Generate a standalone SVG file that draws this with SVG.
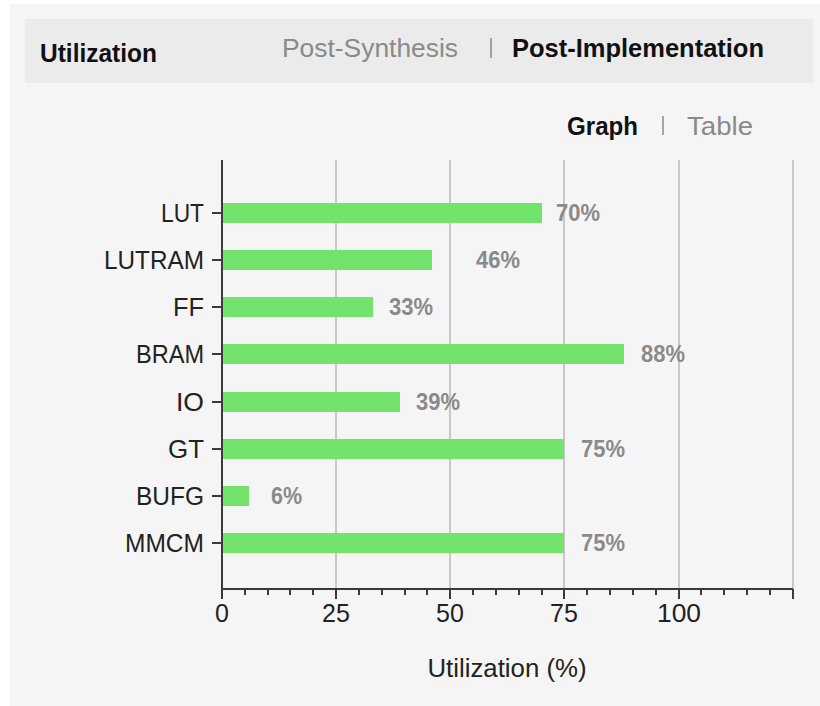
<svg xmlns="http://www.w3.org/2000/svg" width="820" height="706" viewBox="0 0 820 706">
  <defs>
    <style>
      text { font-family: "Liberation Sans", Arial, sans-serif; }
      .hdr-b { font-size: 25px; font-weight: bold; fill: #111; }
      .hdr-g { font-size: 25px; fill: #8a8a8a; }
      .cat { font-size: 26px; fill: #222; text-anchor: end; }
      .val { font-size: 23px; font-weight: bold; fill: #8a8a8a; }
      .tickl { font-size: 25px; fill: #222; text-anchor: middle; }
      .grid { stroke: #b8b8b8; stroke-width: 1.5; }
      .axis { stroke: #3a3a3a; stroke-width: 2; fill: none; }
      .bar { fill: #72e46c; }
      .sep { stroke: #8a8a8a; stroke-width: 1.5; }
    </style>
  </defs>

  <!-- background panel -->
  <rect x="0" y="0" width="820" height="706" fill="#ffffff"/>
  <rect x="10" y="4" width="810" height="702" fill="#f5f5f5"/>

  <!-- header bar -->
  <g id="header">
    <rect x="25" y="19" width="788" height="64" fill="#ebebeb"/>
    <text class="hdr-b" x="40" y="62" textLength="117" lengthAdjust="spacingAndGlyphs">Utilization</text>
    <text class="hdr-g" x="282" y="57" textLength="176" lengthAdjust="spacingAndGlyphs">Post-Synthesis</text>
    <line class="sep" x1="491" y1="38" x2="491" y2="58"/>
    <text class="hdr-b" x="512" y="57" textLength="252" lengthAdjust="spacingAndGlyphs">Post-Implementation</text>
  </g>

  <!-- view switch -->
  <g id="view-switch">
    <text class="hdr-b" x="567" y="135" textLength="71" lengthAdjust="spacingAndGlyphs">Graph</text>
    <line class="sep" x1="663" y1="116" x2="663" y2="135"/>
    <text class="hdr-g" x="687" y="135" textLength="66" lengthAdjust="spacingAndGlyphs">Table</text>
  </g>

  <!-- grid lines -->
  <g id="grid">
    <line class="grid" x1="336" y1="160" x2="336" y2="589"/>
    <line class="grid" x1="450" y1="160" x2="450" y2="589"/>
    <line class="grid" x1="564" y1="160" x2="564" y2="589"/>
    <line class="grid" x1="679" y1="160" x2="679" y2="589"/>
    <line class="grid" x1="793" y1="160" x2="793" y2="589"/>
  </g>

  <!-- bars -->
  <g id="bars">
    <g id="bar-lut"><rect class="bar" x="222" y="203" width="320" height="20"/><text class="val" x="556" y="221" textLength="44" lengthAdjust="spacingAndGlyphs">70%</text></g>
    <g id="bar-lutram"><rect class="bar" x="222" y="250" width="210" height="20"/><text class="val" x="476" y="268" textLength="44" lengthAdjust="spacingAndGlyphs">46%</text></g>
    <g id="bar-ff"><rect class="bar" x="222" y="297" width="151" height="20"/><text class="val" x="389" y="315" textLength="44" lengthAdjust="spacingAndGlyphs">33%</text></g>
    <g id="bar-bram"><rect class="bar" x="222" y="344" width="402" height="20"/><text class="val" x="641" y="362" textLength="44" lengthAdjust="spacingAndGlyphs">88%</text></g>
    <g id="bar-io"><rect class="bar" x="222" y="392" width="178" height="20"/><text class="val" x="416" y="410" textLength="44" lengthAdjust="spacingAndGlyphs">39%</text></g>
    <g id="bar-gt"><rect class="bar" x="222" y="439" width="342" height="20"/><text class="val" x="581" y="457" textLength="44" lengthAdjust="spacingAndGlyphs">75%</text></g>
    <g id="bar-bufg"><rect class="bar" x="222" y="486" width="27" height="20"/><text class="val" x="271" y="504" textLength="31" lengthAdjust="spacingAndGlyphs">6%</text></g>
    <g id="bar-mmcm"><rect class="bar" x="222" y="533" width="342" height="20"/><text class="val" x="581" y="551" textLength="44" lengthAdjust="spacingAndGlyphs">75%</text></g>
  </g>

  <!-- axes -->
  <g id="axes">
    <path class="axis" d="M222,160 V589 H793"/>
    <!-- category ticks -->
    <path class="axis" d="M212,213 H222 M212,260 H222 M212,307 H222 M212,354 H222 M212,402 H222 M212,449 H222 M212,496 H222 M212,543 H222"/>
    <!-- major ticks -->
    <path class="axis" d="M222,589 V599 M336,589 V599 M450,589 V599 M564,589 V599 M679,589 V599 M793,589 V599"/>
    <!-- minor ticks -->
    <path class="axis" d="M245,589 V595 M268,589 V595 M290,589 V595 M313,589 V595
                          M359,589 V595 M382,589 V595 M405,589 V595 M427,589 V595
                          M473,589 V595 M496,589 V595 M519,589 V595 M542,589 V595
                          M587,589 V595 M610,589 V595 M633,589 V595 M656,589 V595
                          M701,589 V595 M724,589 V595 M747,589 V595 M770,589 V595"/>
  </g>

  <!-- category labels -->
  <g id="categories">
    <text class="cat" x="204" y="222" textLength="43" lengthAdjust="spacingAndGlyphs">LUT</text>
    <text class="cat" x="204" y="269" textLength="100" lengthAdjust="spacingAndGlyphs">LUTRAM</text>
    <text class="cat" x="204" y="316" textLength="31" lengthAdjust="spacingAndGlyphs">FF</text>
    <text class="cat" x="204" y="363" textLength="68" lengthAdjust="spacingAndGlyphs">BRAM</text>
    <text class="cat" x="204" y="411" textLength="28" lengthAdjust="spacingAndGlyphs">IO</text>
    <text class="cat" x="204" y="458" textLength="36" lengthAdjust="spacingAndGlyphs">GT</text>
    <text class="cat" x="204" y="505" textLength="68" lengthAdjust="spacingAndGlyphs">BUFG</text>
    <text class="cat" x="204" y="552" textLength="79" lengthAdjust="spacingAndGlyphs">MMCM</text>
  </g>

  <!-- x tick labels and title -->
  <g id="x-labels">
    <text class="tickl" x="222" y="622">0</text>
    <text class="tickl" x="336" y="622">25</text>
    <text class="tickl" x="450" y="622">50</text>
    <text class="tickl" x="564" y="622">75</text>
    <text class="tickl" x="679" y="622" textLength="44" lengthAdjust="spacingAndGlyphs">100</text>
    <text class="tickl" x="507" y="677" textLength="159" lengthAdjust="spacingAndGlyphs">Utilization (%)</text>
  </g>
</svg>
